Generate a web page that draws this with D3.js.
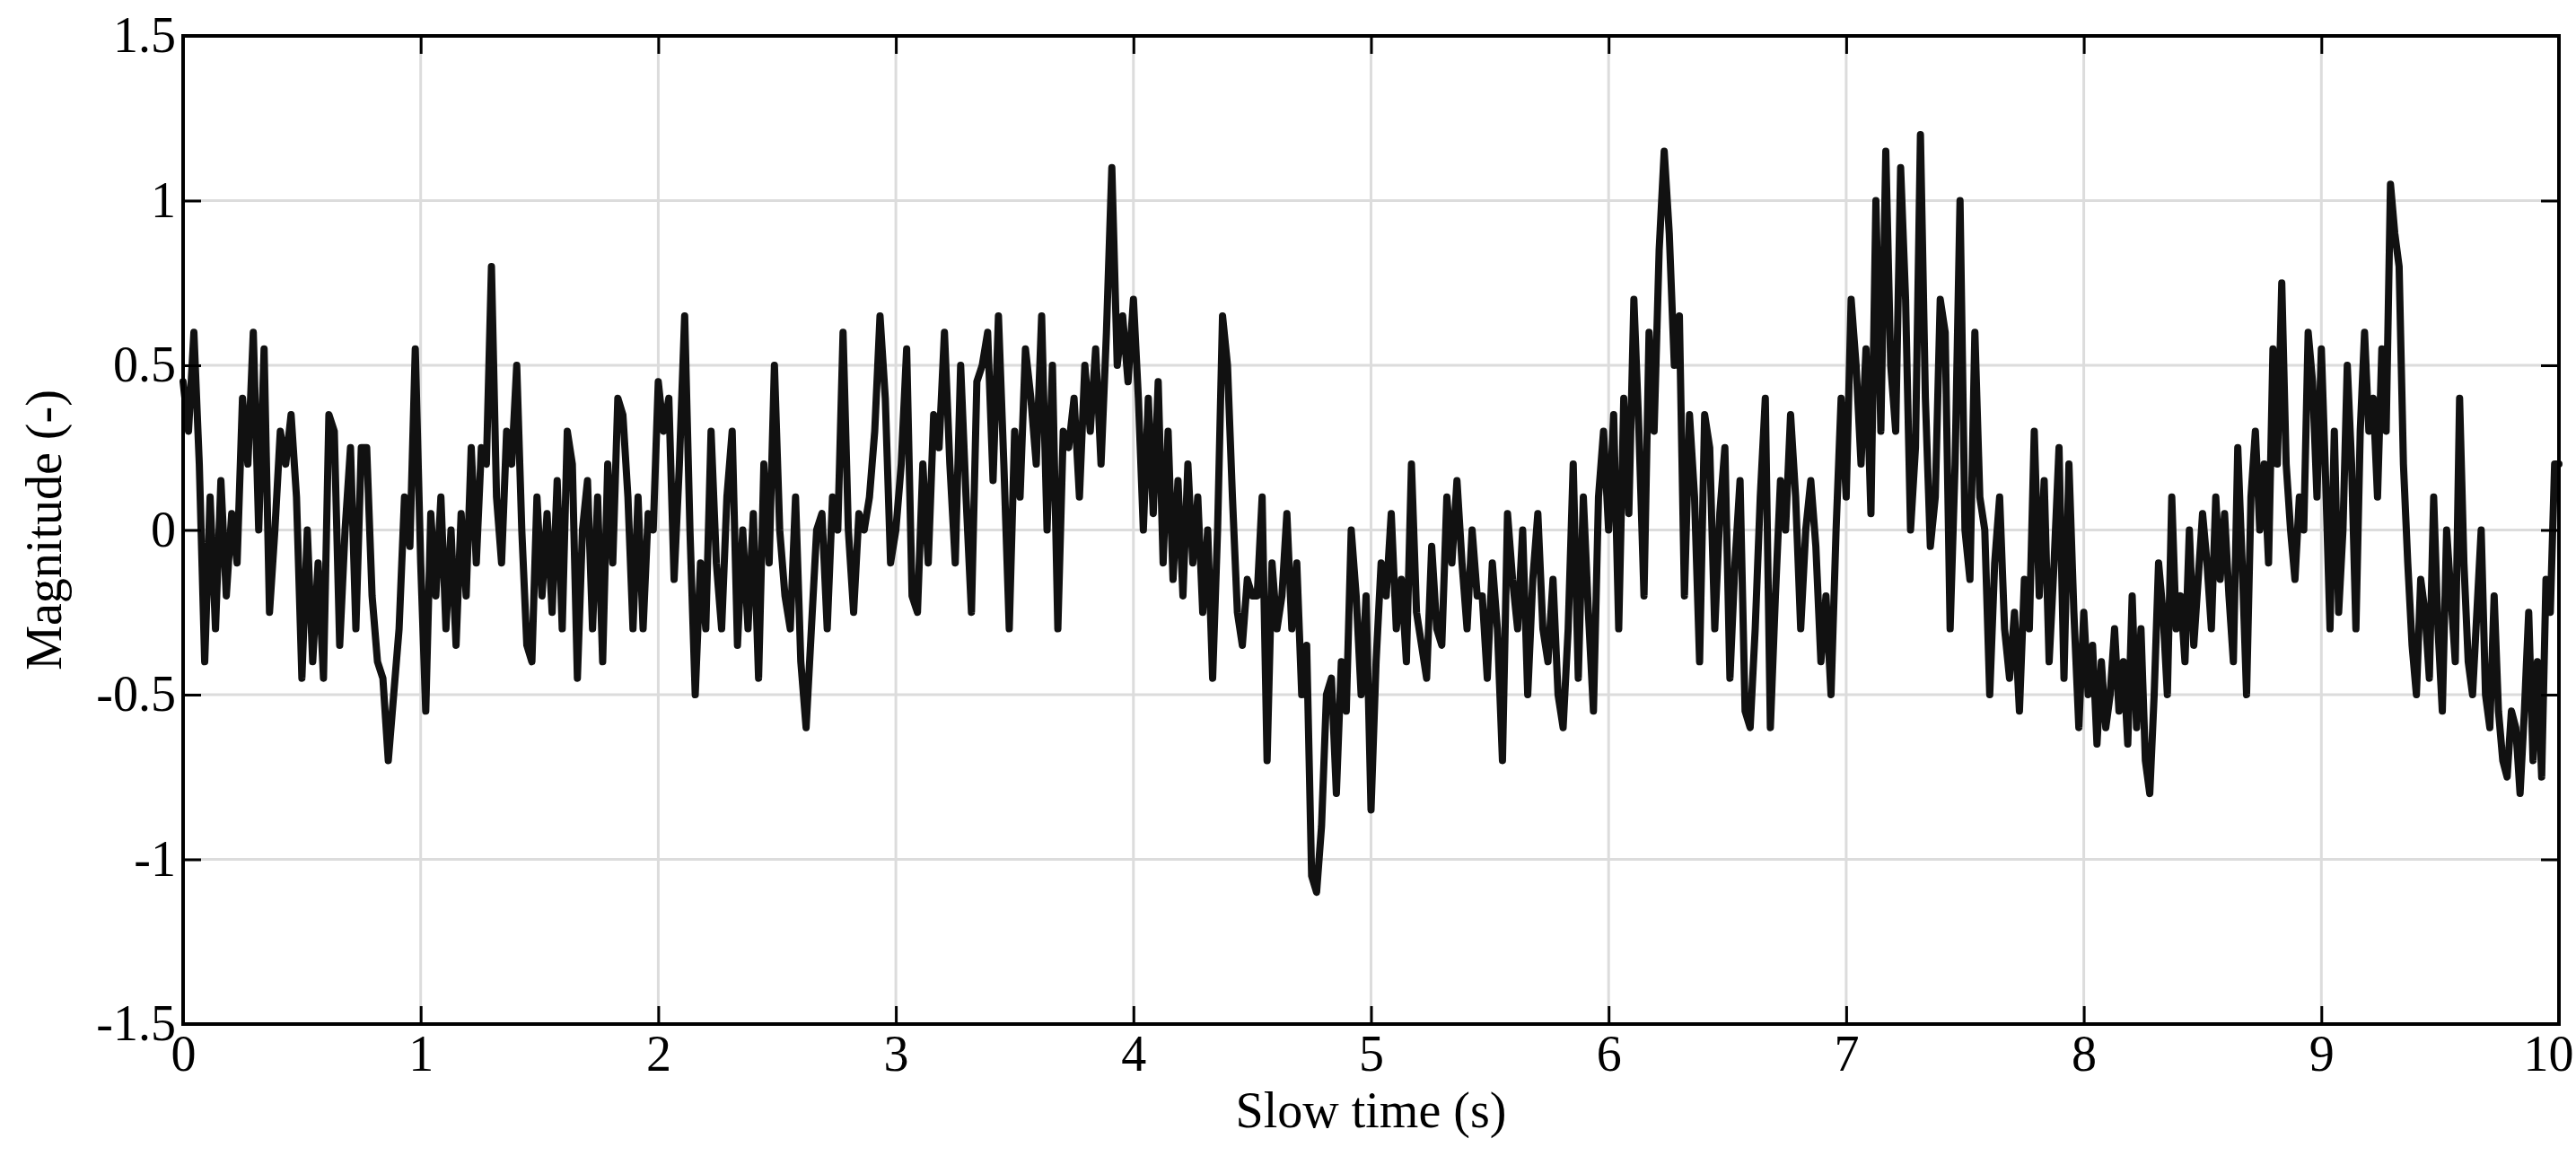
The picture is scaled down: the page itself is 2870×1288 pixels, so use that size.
<!DOCTYPE html>
<html><head><meta charset="utf-8">
<script src="https://cdn.jsdelivr.net/npm/d3@7"></script>
<style>body{margin:0;background:#fff}</style>
</head><body><svg id="c" width="2870" height="1288"></svg>
<script>
// Values per one-second segment
const seg0=[0.45,0.3,0.6,0.2,-0.4,0.1,-0.3,0.15,-0.2,0.05,-0.1,0.4,0.2,0.6,0.0,0.55,-0.25,0.0,0.3,0.2,0.35,0.1,-0.45,0.0,-0.4,-0.1,-0.45,0.35,0.3,-0.35,0.0,0.25,-0.3,0.25,0.25,-0.2,-0.4,-0.45,-0.7,-0.5,-0.3,0.1,-0.05,0.55];
const seg1=[-0.1,-0.55,0.05,-0.2,0.1,-0.3,0.0,-0.35,0.05,-0.2,0.25,-0.1,0.25,0.2,0.8,0.1,-0.1,0.3,0.2,0.5,0.0,-0.35,-0.4,0.1,-0.2,0.05,-0.25,0.15,-0.3,0.3,0.2,-0.45,0.0,0.15,-0.3,0.1,-0.4,0.2,-0.1,0.4,0.35,0.1,-0.3,0.1,-0.3,0.05,0.0];
const seg2=[0.45,0.3,0.4,-0.15,0.2,0.65,0.0,-0.5,-0.1,-0.3,0.3,-0.1,-0.3,0.1,0.3,-0.35,0.0,-0.3,0.05,-0.45,0.2,-0.1,0.5,0.0,-0.2,-0.3,0.1,-0.4,-0.6,-0.3,0.0,0.05,-0.3,0.1,0.0,0.6,0.0,-0.25,0.05,0.0,0.1,0.3,0.65,0.4,-0.1];
const seg3=[0.0,0.2,0.55,-0.2,-0.25,0.2,-0.1,0.35,0.25,0.6,0.2,-0.1,0.5,0.1,-0.25,0.45,0.5,0.6,0.15,0.65,0.2,-0.3,0.3,0.1,0.55,0.4,0.2,0.65,0.0,0.5,-0.3,0.3,0.25,0.4,0.1,0.5,0.3,0.55,0.2,0.6,1.1,0.5,0.65,0.45];
const seg4=[0.7,0.4,0.0,0.4,0.05,0.45,-0.1,0.3,-0.15,0.15,-0.2,0.2,-0.1,0.1,-0.25,0.0,-0.45,0.0,0.65,0.5,0.1,-0.25,-0.35,-0.15,-0.2,-0.2,0.1,-0.7,-0.1,-0.3,-0.2,0.05,-0.3,-0.1,-0.5,-0.35,-1.05,-1.1,-0.9,-0.5,-0.45,-0.8,-0.4,-0.55,0.0,-0.2,-0.5,-0.2];
const seg5=[-0.85,-0.4,-0.1,-0.2,0.05,-0.3,-0.15,-0.4,0.2,-0.25,-0.35,-0.45,-0.05,-0.3,-0.35,0.1,-0.1,0.15,-0.1,-0.3,0.0,-0.2,-0.2,-0.45,-0.1,-0.3,-0.7,0.05,-0.15,-0.3,0.0,-0.5,-0.15,0.05,-0.3,-0.4,-0.15,-0.5,-0.6,-0.3,0.2,-0.45,0.1,-0.25,-0.55,0.1,0.3];
const seg6=[0.0,0.35,-0.3,0.4,0.05,0.7,0.3,-0.2,0.6,0.3,0.85,1.15,0.9,0.5,0.65,-0.2,0.35,0.1,-0.4,0.35,0.25,-0.3,0.05,0.25,-0.45,-0.1,0.15,-0.55,-0.6,-0.3,0.1,0.4,-0.6,-0.2,0.15,0.0,0.35,0.1,-0.3,0.0,0.15,-0.05,-0.4,-0.2,-0.5,0.0,0.4];
const seg7=[0.1,0.7,0.5,0.2,0.55,0.05,1.0,0.3,1.15,0.5,0.3,1.1,0.7,0.0,0.25,1.2,0.4,-0.05,0.1,0.7,0.6,-0.3,0.2,1.0,0.0,-0.15,0.6,0.1,0.0,-0.5,-0.1,0.1,-0.3,-0.45,-0.25,-0.55,-0.15,-0.3,0.3,-0.2,0.15,-0.4,-0.1,0.25,-0.45,0.2,-0.25,-0.6];
const seg8=[-0.25,-0.5,-0.35,-0.65,-0.4,-0.6,-0.5,-0.3,-0.55,-0.4,-0.65,-0.2,-0.6,-0.3,-0.7,-0.8,-0.5,-0.1,-0.25,-0.5,0.1,-0.3,-0.2,-0.4,0.0,-0.35,-0.15,0.05,-0.1,-0.3,0.1,-0.15,0.05,-0.2,-0.4,0.25,-0.1,-0.5,0.1,0.3,0.0,0.2,-0.1,0.55,0.2,0.75,0.2,0.0,-0.15,0.1,0.0,0.6,0.45,0.1];
const seg9=[0.55,0.15,-0.3,0.3,-0.25,0.0,0.5,0.2,-0.3,0.3,0.6,0.3,0.4,0.1,0.55,0.3,1.05,0.9,0.8,0.2,-0.1,-0.35,-0.5,-0.15,-0.25,-0.45,0.1,-0.3,-0.55,0.0,-0.2,-0.4,0.4,-0.1,-0.4,-0.5,-0.25,0.0,-0.5,-0.6,-0.2,-0.55,-0.7,-0.75,-0.55,-0.6,-0.8,-0.55,-0.25,-0.7,-0.4,-0.75,-0.15,-0.25,0.2];
const segments=[seg0,seg1,seg2,seg3,seg4,seg5,seg6,seg7,seg8,seg9];
const xTicks=[0,1,2,3,4,5,6,7,8,9,10];
const yTicks=[-1.5,-1,-0.5,0,0.5,1,1.5];
const yTickLabels=["-1.5","-1","-0.5","0","0.5","1","1.5"];

const data=[];
segments.forEach((s,i)=>s.forEach((v,j)=>data.push([i+j/s.length,v])));
data.push([10,0.2]);

const L=204,R=2851,T=40,B=1141;
const svg=d3.select("#c");
const x=d3.scaleLinear().domain([0,10]).range([L,R]);
const y=d3.scaleLinear().domain([-1.5,1.5]).range([B,T]);
const font="'Liberation Serif','Times New Roman',serif";

const g=svg.append("g");
g.selectAll(".gx").data(xTicks.slice(1,-1)).enter().append("line")
 .attr("x1",d=>x(d)).attr("x2",d=>x(d)).attr("y1",T).attr("y2",B)
 .attr("stroke","#dcdcdc").attr("stroke-width",3);
g.selectAll(".gy").data(yTicks.slice(1,-1)).enter().append("line")
 .attr("y1",d=>y(d)).attr("y2",d=>y(d)).attr("x1",L).attr("x2",R)
 .attr("stroke","#dcdcdc").attr("stroke-width",3);

const line=d3.line().x(d=>x(d[0])).y(d=>y(d[1]));
svg.append("path").datum(data).attr("d",line).attr("fill","none")
 .attr("stroke","#111").attr("stroke-width",8).attr("stroke-linejoin","round").attr("stroke-linecap","round");

function styleAxis(a){a.select(".domain").remove();a.selectAll("line").attr("stroke","#000").attr("stroke-width",3);
 a.selectAll("text").attr("font-family",font).attr("font-size",56).attr("fill","#000");}
const xa=svg.append("g").attr("transform",`translate(0,${B})`).call(d3.axisBottom(x).tickValues(xTicks).tickSize(-20).tickPadding(12).tickFormat(d3.format("d"))).call(styleAxis);
xa.selectAll("text").filter(d=>d===10).attr("text-anchor","end").attr("dx",16);
svg.append("g").attr("transform",`translate(0,${T})`).call(d3.axisTop(x).tickValues(xTicks).tickSize(-20).tickFormat("")).call(styleAxis);
svg.append("g").attr("transform",`translate(${L},0)`).call(d3.axisLeft(y).tickValues(yTicks).tickSize(-20).tickPadding(8).tickFormat((d,i)=>yTickLabels[i])).call(styleAxis);
svg.append("g").attr("transform",`translate(${R},0)`).call(d3.axisRight(y).tickValues(yTicks).tickSize(-20).tickFormat("")).call(styleAxis);
svg.append("rect").attr("x",L).attr("y",T).attr("width",R-L).attr("height",B-T).attr("fill","none").attr("stroke","#000").attr("stroke-width",4);

svg.append("text").attr("x",(L+R)/2).attr("y",1256).attr("text-anchor","middle")
 .attr("font-family",font).attr("font-size",56).text("Slow time (s)");
svg.append("text").attr("transform",`translate(68,${(T+B)/2}) rotate(-90)`).attr("text-anchor","middle")
 .attr("font-family",font).attr("font-size",56).text("Magnitude (-)");
</script></body></html>
